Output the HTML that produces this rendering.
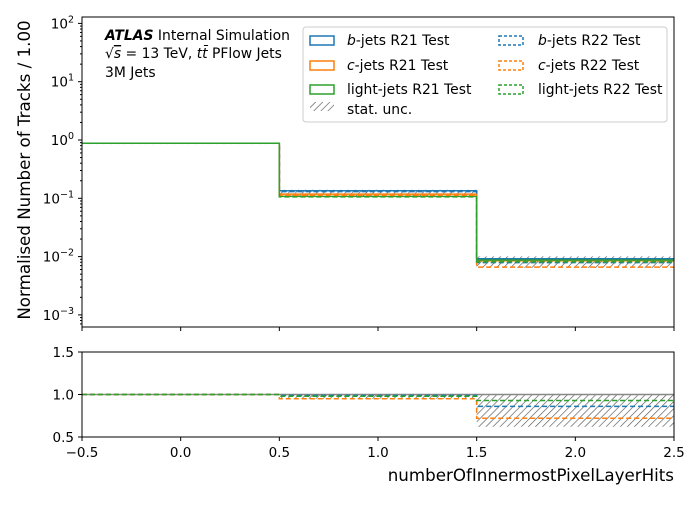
<!DOCTYPE html>
<html><head><meta charset="utf-8"><style>
body{margin:0;background:#fff;}
svg text{font-family:"DejaVu Sans","Liberation Sans",sans-serif;}
</style></head><body>
<svg id="c" width="700" height="500" xmlns="http://www.w3.org/2000/svg">
<defs>
<pattern id="hatch" patternUnits="userSpaceOnUse" width="5" height="5" patternTransform="rotate(45)">
<line x1="0" y1="0" x2="0" y2="5" stroke="#555" stroke-width="1.3"/>
</pattern>
</defs>
</svg>
<script>
const binEdges=[-0.5,0.5,1.5,2.5];
const bR21=[0.88,0.135,0.0092];
const cR21=[0.88,0.118,0.0085];
const lR21=[0.88,0.108,0.0087];
const bR22=[0.88,0.13,0.0079];
const cR22=[0.88,0.112,0.0066];
const lR22=[0.88,0.106,0.0081];
const uncLo=[0.875,0.108,0.0064];
const uncHi=[0.885,0.14,0.0101];
const ratioB=[1.0,0.99,0.86];
const ratioC=[1.0,0.95,0.72];
const ratioL=[1.0,0.98,0.93];
const ratioUncLo=[0.995,0.95,0.62];
const ratioUncHi=[1.005,1.0,1.0];
const mainTicks=[2,1,0,-1,-2,-3];
const xTicks=[-0.5,0,0.5,1,1.5,2,2.5];
const xTickLabels=["−0.5","0.0","0.5","1.0","1.5","2.0","2.5"];
const ratioTicks=[0.5,1.0,1.5];
const ratioTickLabels=["0.5","1.0","1.5"];

const NS="http://www.w3.org/2000/svg";
const svg=document.getElementById('c');
const L=82,R=674,T1=17,B1=327,T2=352,B2=437;
const xs=v=>L+(v+0.5)/3*(R-L);
const ys=v=>140-Math.log10(v)*58.3;
const yr=v=>437-(v-0.5)*85;
function el(t,a,p){const e=document.createElementNS(NS,t);for(const k in a)e.setAttribute(k,a[k]);(p||svg).appendChild(e);return e;}
function stepPath(vals,yf){let d='';for(let i=0;i<vals.length;i++){const x0=xs(binEdges[i]),x1=xs(binEdges[i+1]),y=yf(vals[i]);d+=(i==0?'M':'L')+x0+','+y+'L'+x1+','+y;}return d;}
function band(lo,hi,yf,nm){for(let i=0;i<lo.length;i++){const x0=xs(binEdges[i]),x1=xs(binEdges[i+1]);const y0=yf(hi[i]),y1=yf(lo[i]);
const r=el('rect',{x:x0,y:y0,width:x1-x0,height:Math.max(1,y1-y0),fill:'url(#hatch)'});

}}
const C={b:'#1f77b4',c:'#ff7f0e',l:'#2ca02c'};
function line(vals,yf,col,dash,nm){const p=el('path',{d:stepPath(vals,yf),fill:'none',stroke:col,'stroke-width':1.5,'stroke-dasharray':dash?'5,3':'none'});

}
band(uncLo,uncHi,ys,'stat-unc');
line(bR21,ys,C.b,false,'b-jets-r21');line(cR21,ys,C.c,false,'c-jets-r21');line(lR21,ys,C.l,false,'light-jets-r21');
line(bR22,ys,C.b,true,'b-jets-r22');line(cR22,ys,C.c,true,'c-jets-r22');line(lR22,ys,C.l,true,'light-jets-r22');
band(ratioUncLo,ratioUncHi,yr,'ratio-stat-unc');
const ones=[1,1,1];
line(ones,yr,'#888',false,'ratio-reference');
line(ratioB,yr,C.b,true,'ratio-b-jets');line(ratioC,yr,C.c,true,'ratio-c-jets');line(ratioL,yr,C.l,true,'ratio-light-jets');
const f1=el('rect',{x:L,y:T1,width:R-L,height:B1-T1,fill:'none',stroke:'#000','stroke-width':1});

const f2=el('rect',{x:L,y:T2,width:R-L,height:B2-T2,fill:'none',stroke:'#000','stroke-width':1});

mainTicks.forEach(e=>{const y=ys(Math.pow(10,e));el('line',{x1:L-4,x2:L,y1:y,y2:y,stroke:'#000'});
const t=el('text',{x:L-8,y:y+5,'text-anchor':'end','font-size':13.5});t.textContent='10';
const s=el('tspan',{dy:-6,'font-size':9.5},t);s.textContent=e<0?'−'+(-e):String(e);

for(let m=2;m<10;m++){const yy=ys(m*Math.pow(10,e-1));if(yy>T1&&yy<B1)el('line',{x1:L-2,x2:L,y1:yy,y2:yy,stroke:'#000'});}
});
for(let m=2;m<10;m++){const yy=ys(m*100);if(yy>T1)el('line',{x1:L-2,x2:L,y1:yy,y2:yy,stroke:'#000'});}
xTicks.forEach((v,i)=>{const x=xs(v);el('line',{x1:x,x2:x,y1:B1,y2:B1+4,stroke:'#000'});el('line',{x1:x,x2:x,y1:B2,y2:B2+4,stroke:'#000'});
const t=el('text',{x:x,y:B2+20,'text-anchor':'middle','font-size':13.5});t.textContent=xTickLabels[i];
});
ratioTicks.forEach((v,i)=>{const y=yr(v);el('line',{x1:L-4,x2:L,y1:y,y2:y,stroke:'#000'});
const t=el('text',{x:L-8,y:y+5,'text-anchor':'end','font-size':13.5});t.textContent=ratioTickLabels[i];
});
</script>
<svg width="700" height="500" style="position:absolute;left:0;top:0" xmlns="http://www.w3.org/2000/svg">
<defs>
<pattern id="hatch2" patternUnits="userSpaceOnUse" width="5" height="5" patternTransform="rotate(45)">
<line x1="0" y1="0" x2="0" y2="5" stroke="#555" stroke-width="1.3"/>
</pattern>
</defs>
<text transform="translate(30,170) rotate(-90)" text-anchor="middle" font-size="16.7" font-family="DejaVu Sans, Liberation Sans, sans-serif">Normalised Number of Tracks / 1.00</text>
<text x="674" y="481" text-anchor="end" font-size="16.7" font-family="DejaVu Sans, Liberation Sans, sans-serif">numberOfInnermostPixelLayerHits</text>
<g font-family="DejaVu Sans, Liberation Sans, sans-serif" font-size="13.9">
<text x="105" y="40"><tspan font-weight="bold" font-style="italic">ATLAS</tspan> Internal Simulation</text>
<text x="105" y="58">√<tspan text-decoration="overline" font-style="italic">s</tspan> = 13 TeV, <tspan font-style="italic">tt̄</tspan> PFlow Jets</text>
<text x="105" y="77">3M Jets</text>
</g>
<g font-family="DejaVu Sans, Liberation Sans, sans-serif" font-size="13.9">
<rect x="303" y="27" width="364" height="95" rx="3" fill="#fff" fill-opacity="0.8" stroke="#ccc"/>
<rect x="310" y="36" width="24" height="9" fill="none" stroke="#1f77b4" stroke-width="1.5"/>
<text x="347" y="45"><tspan font-style="italic">b</tspan>-jets R21 Test</text>
<rect x="310" y="61" width="24" height="9" fill="none" stroke="#ff7f0e" stroke-width="1.5"/>
<text x="347" y="70"><tspan font-style="italic">c</tspan>-jets R21 Test</text>
<rect x="310" y="85" width="24" height="9" fill="none" stroke="#2ca02c" stroke-width="1.5"/>
<text x="347" y="94">light-jets R21 Test</text>
<rect x="310" y="102" width="24" height="9" fill="url(#hatch2)"/>
<text x="347" y="114">stat. unc.</text>
<rect x="499" y="36" width="24" height="9" fill="none" stroke="#1f77b4" stroke-width="1.5" stroke-dasharray="3,2"/>
<text x="538" y="45"><tspan font-style="italic">b</tspan>-jets R22 Test</text>
<rect x="499" y="61" width="24" height="9" fill="none" stroke="#ff7f0e" stroke-width="1.5" stroke-dasharray="3,2"/>
<text x="538" y="70"><tspan font-style="italic">c</tspan>-jets R22 Test</text>
<rect x="499" y="85" width="24" height="9" fill="none" stroke="#2ca02c" stroke-width="1.5" stroke-dasharray="3,2"/>
<text x="538" y="94">light-jets R22 Test</text>
</g>
</svg>
</body></html>
